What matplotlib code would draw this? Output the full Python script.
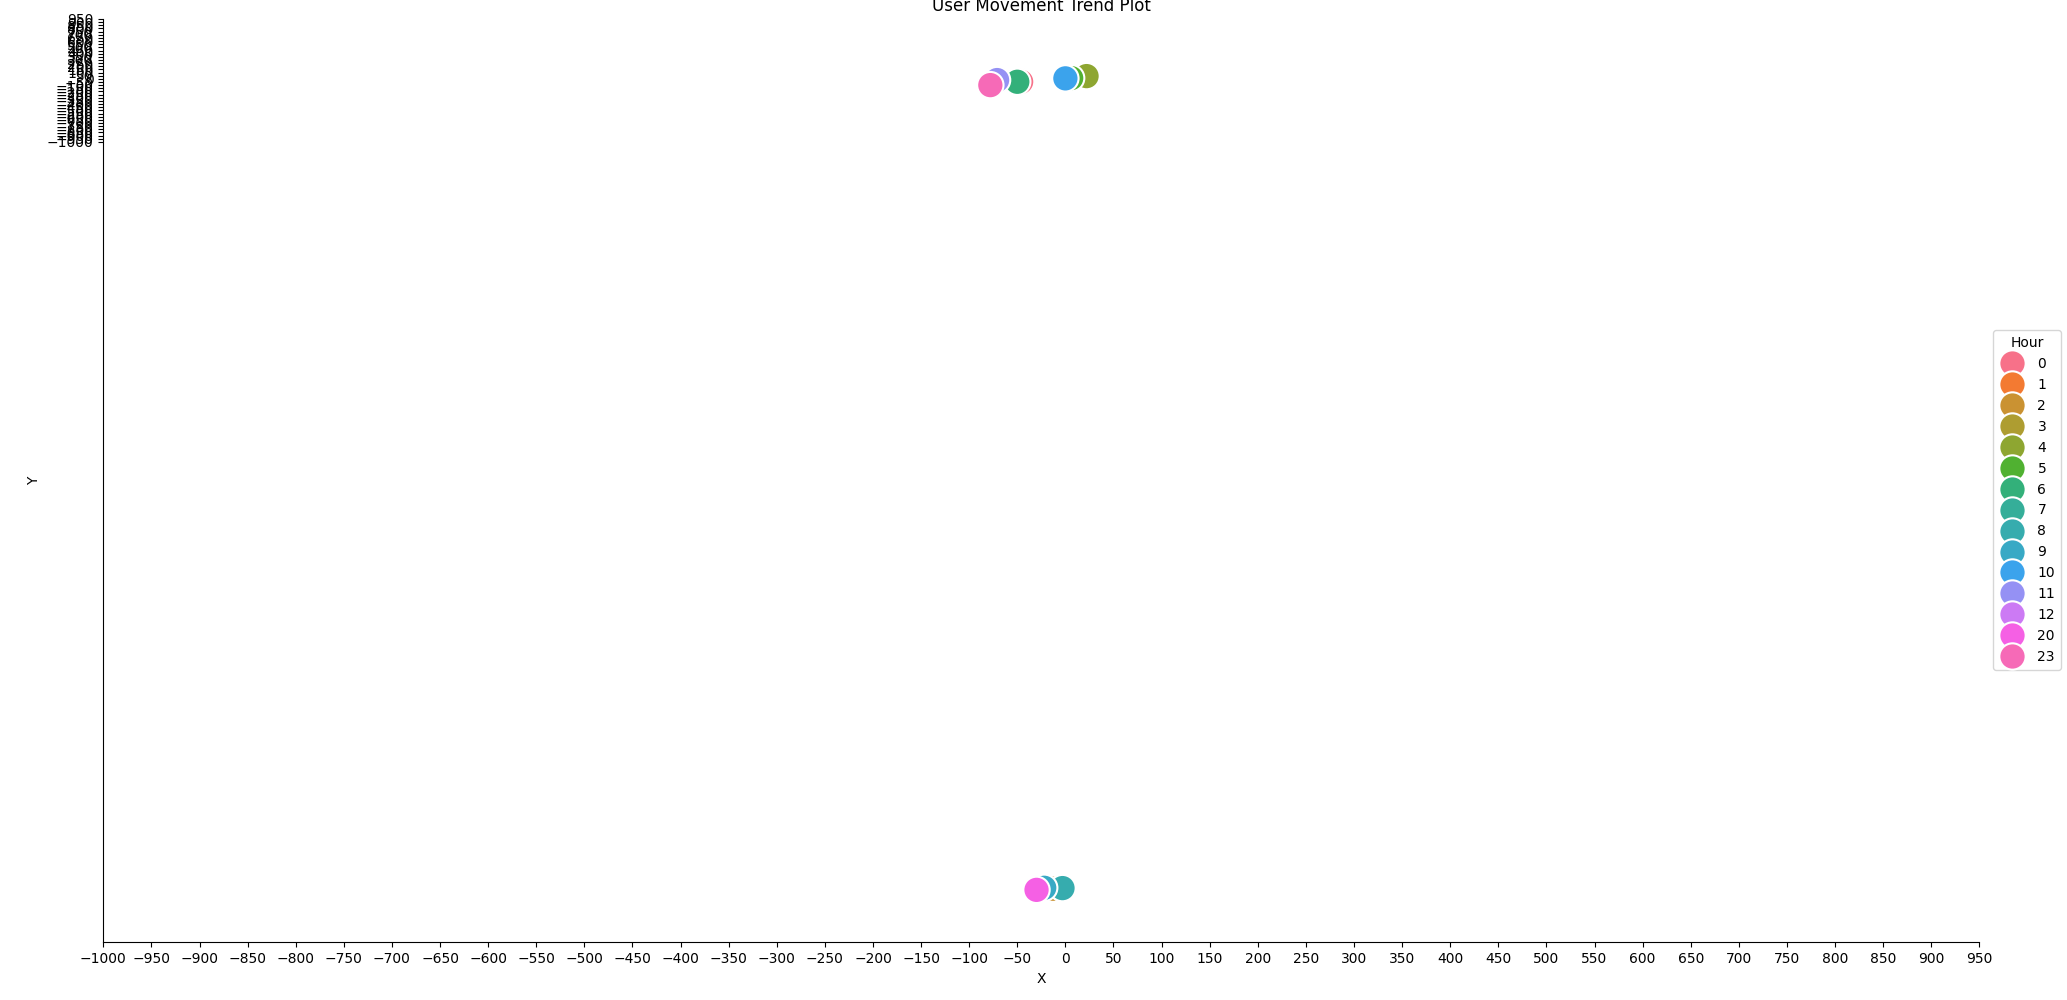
import numpy as np
import matplotlib
matplotlib.use("Agg")
import matplotlib.pyplot as plt
from matplotlib.lines import Line2D
import seaborn as sns

# Hour levels shown in the legend
hour_levels = [0, 1, 2, 3, 4, 5, 6, 7, 8, 9, 10, 11, 12, 20, 23]

# Observed points (drawing order: later points on top)
point_hour = [1, 3, 2, 7, 8, 9, 20, 12, 0, 6, 11, 23, 4, 5, 10]
point_x = [-13, -13, -13, -3, -3, -22, -30, -71, -46, -50, -71, -78, 22, 6, 0]
point_y = [-12850, -12850, -12850, -12840, -12840, -12835, -12868,
           -19, -46, -46, -19, -99, 44, 12, 8]

tick_values = np.arange(-1000, 1000, 50)

palette = sns.color_palette("husl", len(hour_levels))
color_of = {h: palette[i] for i, h in enumerate(hour_levels)}

fig = plt.figure(figsize=(20.67, 10), dpi=100)
ax = fig.add_axes([0.04998, 0.0577, 0.9576 - 0.04998, 0.981 - 0.0577])

marker_s = 360
ax.scatter(point_x, point_y, s=marker_s,
           c=[color_of[h] for h in point_hour],
           edgecolors="white", linewidths=1.5, zorder=3)

ax.set_xticks(tick_values)
ax.set_yticks(tick_values)
ax.set_xlim(-1000, 950)
ax.set_ylim(-13700, 950)
ax.set_xlabel("X")
ax.set_ylabel("Y")
ax.set_title("User Movement Trend Plot")
ax.spines["top"].set_visible(False)
ax.spines["right"].set_visible(False)

handles = [Line2D([0], [0], marker="o", linestyle="", markersize=np.sqrt(marker_s),
                  markerfacecolor=color_of[h], markeredgecolor="white",
                  markeredgewidth=1.5) for h in hour_levels]
fig.legend(handles, [str(h) for h in hour_levels], title="Hour",
           loc="center left", bbox_to_anchor=(1993 / 2067, 0.5),
           borderaxespad=0)

fig.savefig("out.png", dpi=100)
